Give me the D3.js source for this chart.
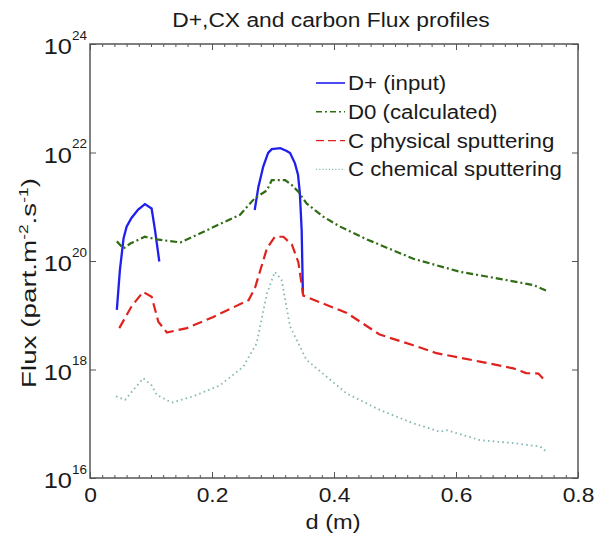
<!DOCTYPE html>
<html>
<head>
<meta charset="utf-8">
<script src="https://cdn.jsdelivr.net/npm/d3@7"></script>
<style>
  body { margin: 0; background: #fff; }
  svg { font-family: "Liberation Sans", Arial, sans-serif; }
</style>
</head>
<body>
<div id="chart"></div>
<script>
// data (d in m, flux in part.m-2.s-1)
var dPlusX = [0.044, 0.049, 0.055, 0.060, 0.068, 0.079, 0.090, 0.101, 0.1066, 0.1136, null,
              0.270, 0.276, 0.284, 0.292, 0.298, 0.312, 0.3225, 0.328, 0.336, 0.341, 0.344, 0.347, 0.349];
var dPlusY = [1.26e19, 6.8e19, 2.6e20, 4.3e20, 6.2e20, 8.9e20, 1.12e21, 9.3e20, 3.7e20, 9.8e19, null,
              8.7e20, 2.3e21, 5.5e21, 9.8e21, 1.15e22, 1.2e22, 1.07e22, 9.8e21, 6.3e21, 3.9e21, 1.8e21, 3.7e20, 2.5e19];

var d0X = [0.044, 0.055, 0.066, 0.090, 0.110, 0.148, 0.180, 0.213, 0.246, 0.2705, 0.290, 0.298,
           0.320, 0.331, 0.3415, 0.355, 0.382, 0.410, 0.454, 0.530, 0.607, 0.667, 0.727, 0.749];
var d0Y = [2.3e20, 1.7e20, 2.1e20, 2.8e20, 2.5e20, 2.2e20, 3.2e20, 4.8e20, 7.1e20, 1.45e21, 2.0e21, 3.1e21,
           3.1e21, 2.5e21, 1.9e21, 1.15e21, 6.6e20, 4.3e20, 2.5e20, 1.1e20, 6.3e19, 4.8e19, 3.6e19, 2.8e19];

var cPhysX = [0.048, 0.068, 0.087, 0.101, 0.112, 0.126, 0.159, 0.202, 0.260, 0.2705, 0.290, 0.303,
              0.317, 0.331, 0.3415, 0.3497, 0.421, 0.475, 0.530, 0.568, 0.639, 0.694, 0.715, 0.735, 0.746];
var cPhysY = [5.8e18, 1.45e19, 2.7e19, 2.2e19, 7.6e18, 4.8e18, 5.8e18, 9.3e18, 1.9e19, 3.2e19, 1.7e20, 2.8e20,
              2.8e20, 2.0e20, 9.5e19, 2.3e19, 1.1e19, 4.4e18, 2.8e18, 2.0e18, 1.4e18, 1.05e18, 8.6e17, 8.4e17, 6.2e17];

var cChemX = [0.0426, 0.0574, 0.0874, 0.101, 0.1093, 0.134, 0.169, 0.213, 0.251, 0.273, 0.290, 0.303,
              0.314, 0.328, 0.355, 0.421, 0.475, 0.530, 0.574, 0.585, 0.639, 0.694, 0.738, 0.749];
var cChemY = [3.2e17, 2.75e17, 6.9e17, 5.1e17, 3.4e17, 2.45e17, 3.2e17, 5.1e17, 1.12e18, 3.0e18, 2.5e19, 6.3e19,
              4.5e19, 6.2e18, 1.5e18, 3.6e17, 1.8e17, 1.02e17, 7.1e16, 7.6e16, 5.0e16, 4.4e16, 3.8e16, 3.0e16];

var seriesNames = ['D+ (input)', 'D0 (calculated)', 'C physical sputtering', 'C chemical sputtering'];
var xTicks = [0, 0.2, 0.4, 0.6, 0.8];
var yTickExps = [16, 18, 20, 22, 24];

var W = 594, H = 534;
var margin = {top: 44, right: 16, bottom: 56, left: 90};

var svg = d3.select('#chart').append('svg').attr('width', W).attr('height', H);

var x = d3.scaleLinear().domain([0, 0.8]).range([margin.left, W - margin.right]);
var y = d3.scaleLog().domain([1e16, 1e24]).range([H - margin.bottom, margin.top]);

// stretch text horizontally, the original font runs wide
function widen(sel, k){
	sel.each(function(){
		var w = this.getComputedTextLength();
		d3.select(this).attr('textLength', w * k).attr('lengthAdjust', 'spacingAndGlyphs');
	});
}

var axisCol = '#555';
var ink = '#1a1a1a';
var minor = d3.range(0, 41).map(function(i){ return i * 0.02; });

function styleAxis(g){
	g.select('.domain').remove();
	g.selectAll('line').attr('stroke', axisCol).attr('stroke-width', 1);
}

// minor x ticks bottom + top
svg.append('g').attr('transform', 'translate(0,' + y.range()[0] + ')')
	.call(d3.axisBottom(x).tickValues(minor).tickSize(-3).tickFormat(''))
	.call(styleAxis);
svg.append('g').attr('transform', 'translate(0,' + y.range()[1] + ')')
	.call(d3.axisTop(x).tickValues(minor).tickSize(-3).tickFormat(''))
	.call(styleAxis);

// major x ticks
var xAxis = svg.append('g').attr('transform', 'translate(0,' + y.range()[0] + ')')
	.call(d3.axisBottom(x).tickValues(xTicks).tickSize(-6)
		.tickFormat(function(d){ return d === 0 ? '0' : d3.format('.1f')(d); }))
	.call(styleAxis);
xAxis.selectAll('text').attr('font-size', 20).attr('fill', ink).attr('dy', null)
	.attr('y', 24).call(widen, 1.14);
svg.append('g').attr('transform', 'translate(0,' + y.range()[1] + ')')
	.call(d3.axisTop(x).tickValues(xTicks).tickSize(-6).tickFormat(''))
	.call(styleAxis);

// y ticks left + right
var yVals = yTickExps.map(function(e){ return Math.pow(10, e); });
svg.append('g').attr('transform', 'translate(' + x.range()[0] + ',0)')
	.call(d3.axisLeft(y).tickValues(yVals).tickSize(-6).tickFormat(''))
	.call(styleAxis);
svg.append('g').attr('transform', 'translate(' + x.range()[1] + ',0)')
	.call(d3.axisRight(y).tickValues(yVals).tickSize(-6).tickFormat(''))
	.call(styleAxis);

// y tick labels 10^n
var yLab = svg.append('g').selectAll('g').data(yTickExps).enter().append('g')
	.attr('transform', function(d){ return 'translate(0,' + y(Math.pow(10, d)) + ')'; });
yLab.append('text').attr('x', 72).attr('y', 10).attr('text-anchor', 'end')
	.attr('font-size', 21.5).attr('fill', ink).text('10').call(widen, 1.18);
yLab.append('text').attr('x', 72).attr('y', -4.5).attr('text-anchor', 'start')
	.attr('font-size', 12.5).attr('fill', ink).text(function(d){ return d; }).call(widen, 1.08);

// frame
svg.append('rect')
	.attr('x', x.range()[0]).attr('y', y.range()[1])
	.attr('width', x.range()[1] - x.range()[0]).attr('height', y.range()[0] - y.range()[1])
	.attr('fill', 'none').attr('stroke', axisCol).attr('stroke-width', 1.5);

// series
var series = [
	{xs: dPlusX, ys: dPlusY, color: '#1f1fef', dash: null, w: 2.3},
	{xs: d0X, ys: d0Y, color: '#2f6c14', dash: '7,3,2,3', w: 2.2},
	{xs: cPhysX, ys: cPhysY, color: '#e0221e', dash: '10,5', w: 2.2},
	{xs: cChemX, ys: cChemY, color: '#86b8b4', dash: '1.6,3.2', w: 1.8}
];

var line = d3.line()
	.defined(function(d){ return d[0] !== null && d[1] !== null; })
	.x(function(d){ return x(d[0]); })
	.y(function(d){ return y(d[1]); });

series.forEach(function(s){
	var pts = s.xs.map(function(v, i){ return [v, s.ys[i]]; });
	svg.append('path').datum(pts)
		.attr('d', line)
		.attr('fill', 'none')
		.attr('stroke', s.color)
		.attr('stroke-width', s.w)
		.attr('stroke-dasharray', s.dash);
});

// legend
var legend = svg.append('g');
series.forEach(function(s, i){
	var by = 90 + i * 28.8;
	legend.append('line')
		.attr('x1', 316).attr('x2', 345).attr('y1', by - 7).attr('y2', by - 7)
		.attr('stroke', s.color).attr('stroke-width', i === 0 ? 1.6 : 1.4)
		.attr('stroke-dasharray', i === 1 ? '6,3,2,3' : (i === 2 ? '8,4' : (i === 3 ? '1.2,2' : null)));
	legend.append('text').attr('x', 348).attr('y', by)
		.attr('font-size', 19.5).attr('fill', ink).text(seriesNames[i]).call(widen, 1.14);
});

// title
svg.append('text').attr('x', 331).attr('y', 27).attr('text-anchor', 'middle')
	.attr('font-size', 20).attr('fill', ink).text('D+,CX and carbon Flux profiles').call(widen, 1.14);

// x label
svg.append('text').attr('x', 333).attr('y', 529).attr('text-anchor', 'middle')
	.attr('font-size', 20).attr('fill', ink).text('d (m)').call(widen, 1.18);

// y label, rotated, stretched along its length
var yl = svg.append('g').attr('transform', 'translate(36,283) rotate(-90)');
var ylt = yl.append('text').attr('text-anchor', 'middle').attr('font-size', 20).attr('fill', ink);
ylt.append('tspan').text('Flux (part.m');
ylt.append('tspan').attr('font-size', 12.5).attr('dy', -8).text('-2');
ylt.append('tspan').attr('dy', 8).text('.s');
ylt.append('tspan').attr('font-size', 12.5).attr('dy', -8).text('-1');
ylt.append('tspan').attr('dy', 8).text(')');
var ylw = ylt.node().getBBox().width;
yl.attr('transform', 'translate(36,283) rotate(-90) scale(' + (210 / ylw) + ',1)');
</script>
</body>
</html>
